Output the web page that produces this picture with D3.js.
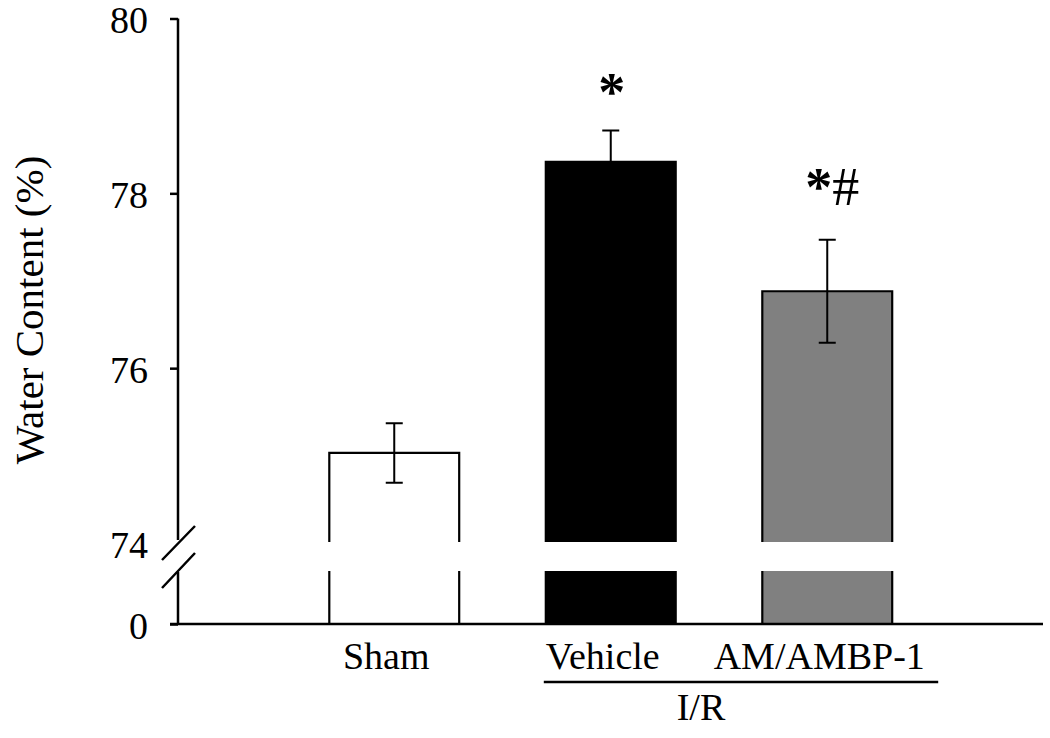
<!DOCTYPE html>
<html>
<head>
<meta charset="utf-8">
<script src="https://cdn.jsdelivr.net/npm/d3@7"></script>
<style>
  body { margin: 0; background: #fff; }
  text { font-family: "Liberation Serif", "Times New Roman", serif; fill: #000; }
</style>
</head>
<body>
<div id="plot"></div>
<script>
// data
var categories = ["Sham", "Vehicle", "AM/AMBP-1"];
var means = [75.03, 78.36, 76.88];
var errors = [0.34, 0.36, 0.59];
var fills = ["#ffffff", "#000000", "#808080"];
var marks = ["", "*", "*#"];
var upperTicks = [74, 76, 78, 80];
var lowerTicks = [0];
var groupLabel = "I/R";
var groupMembers = ["Vehicle", "AM/AMBP-1"];

var width = 1050, height = 738;

var svg = d3.select('#plot')
    .append('svg')
    .attr('width', width)
    .attr('height', height);

// broken y axis: upper part 74-80, lower stub holds 0
var axisX = 178;
var breakTop = 542, breakBottom = 571;
var yUp = d3.scaleLinear().domain([74, 80]).range([543, 18.5]);
var yLow = d3.scaleLinear().domain([0, 74]).range([624, breakBottom]);

var x = d3.scaleBand()
    .domain(categories)
    .range([286, 935.5])
    .paddingInner(0.4)
    .paddingOuter(0.2);

var rows = categories.map(function(c, i) {
    return {name: c, mean: means[i], err: errors[i], fill: fills[i], mark: marks[i]};
});

// bars, upper piece
var bars = svg.append('g');
rows.forEach(function(d) {
    var x0 = x(d.name), x1 = x0 + x.bandwidth();
    var top = yUp(d.mean);
    bars.append('rect')
        .attr('x', x0).attr('y', top)
        .attr('width', x.bandwidth()).attr('height', breakTop - top)
        .style('fill', d.fill);
    bars.append('rect')
        .attr('x', x0).attr('y', breakBottom)
        .attr('width', x.bandwidth()).attr('height', yLow(0) - breakBottom)
        .style('fill', d.fill);
    bars.append('path')
        .attr('d', 'M' + x0 + ',' + breakTop + 'V' + top + 'H' + x1 + 'V' + breakTop +
                   'M' + x0 + ',' + breakBottom + 'V' + yLow(0) +
                   'M' + x1 + ',' + breakBottom + 'V' + yLow(0))
        .style('fill', 'none').style('stroke', '#000').style('stroke-width', 2.2);

    // error bar
    var cx = x0 + x.bandwidth() / 2;
    var capW = 8.5;
    bars.append('path')
        .attr('d', 'M' + cx + ',' + yUp(d.mean + d.err) + 'V' + yUp(d.mean - d.err) +
                   'M' + (cx - capW) + ',' + yUp(d.mean + d.err) + 'H' + (cx + capW) +
                   'M' + (cx - capW) + ',' + yUp(d.mean - d.err) + 'H' + (cx + capW))
        .style('fill', 'none').style('stroke', '#000').style('stroke-width', 2);

    if (d.mark) {
        var t = svg.append('text')
            .attr('x', cx + (d.mark.length > 1 ? 5 : 1))
            .attr('y', yUp(d.mean + d.err) - (d.mark.length > 1 ? 35 : 20))
            .attr('text-anchor', 'middle')
            .style('font-size', '54px');
        d.mark.split('').forEach(function(ch) {
            t.append('tspan').text(ch)
             .style('font-weight', ch == '*' ? 'bold' : 'normal');
        });
    }
});

// axis lines
svg.append('path')
    .attr('d', 'M' + axisX + ',' + yUp(80) + 'V540' +
               'M' + axisX + ',572V' + yLow(0) +
               'M170,' + yLow(0) + 'H1043')
    .style('fill', 'none').style('stroke', '#000').style('stroke-width', 2.5);

// break slashes
svg.append('path')
    .attr('d', 'M162,560L195,526M162,588L195,553')
    .style('fill', 'none').style('stroke', '#000').style('stroke-width', 2.5);

var upAxis = svg.append('g')
    .attr('transform', 'translate(' + axisX + ',0)')
    .call(d3.axisLeft(yUp).tickValues(upperTicks).tickSize(8).tickPadding(22).tickFormat(d3.format('d')));
var lowAxis = svg.append('g')
    .attr('transform', 'translate(' + axisX + ',0)')
    .call(d3.axisLeft(yLow).tickValues(lowerTicks).tickSize(8).tickPadding(22).tickFormat(d3.format('d')));

[upAxis, lowAxis].forEach(function(a) {
    a.select('.domain').remove();
    a.selectAll('line').style('stroke', '#000').style('stroke-width', 2.5);
    a.selectAll('text')
        .attr('dy', '0.38em')
        .style('font-family', '"Liberation Serif", "Times New Roman", serif')
        .style('font-size', '38px')
        .style('fill', '#000');
});
upAxis.selectAll('.tick').filter(function(d) { return d == 74; }).select('line').remove();

// y title
svg.append('text')
    .attr('transform', 'translate(43,310) rotate(-90)')
    .attr('text-anchor', 'middle')
    .style('font-size', '41px')
    .text('Water Content (%)');

// category labels
svg.append('g').selectAll('text')
    .data(categories)
    .enter().append('text')
    .attr('x', function(d) { return x(d) + x.bandwidth() / 2 - 8; })
    .attr('y', 669)
    .attr('text-anchor', 'middle')
    .style('font-size', '38px')
    .text(function(d) { return d; });

// I/R group bracket
var gx0 = x(groupMembers[0]) - 2;
var gx1 = x(groupMembers[1]) + x.bandwidth() + 46;
svg.append('line')
    .attr('x1', gx0).attr('x2', gx1)
    .attr('y1', 682).attr('y2', 682)
    .style('stroke', '#000').style('stroke-width', 2.5);
svg.append('text')
    .attr('x', 701)
    .attr('y', 720)
    .attr('text-anchor', 'middle')
    .style('font-size', '38px')
    .text(groupLabel);
</script>
</body>
</html>
